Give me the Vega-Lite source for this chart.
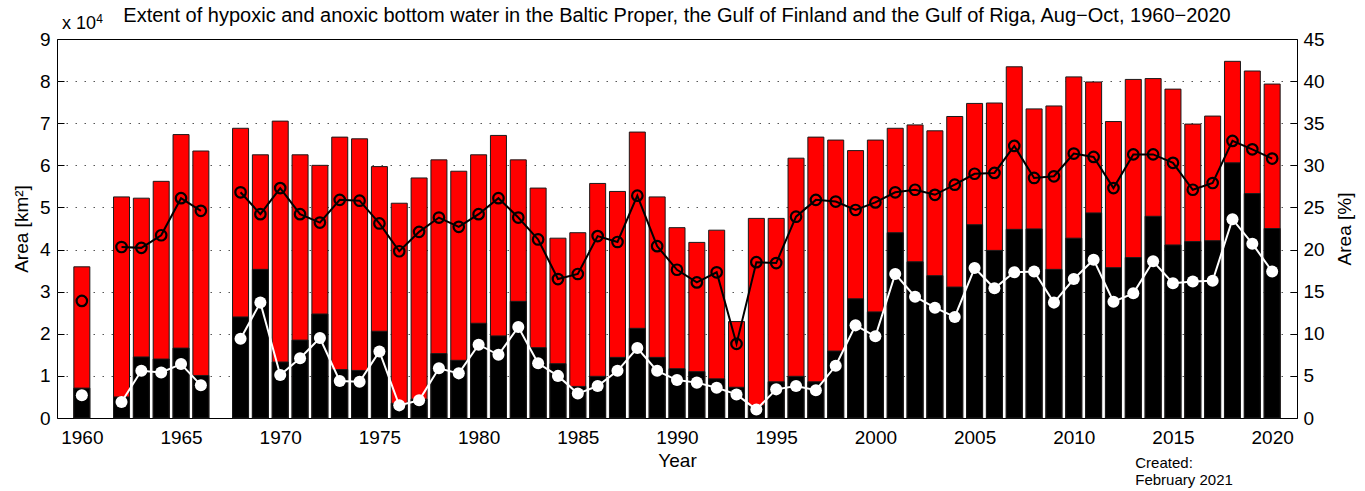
{
  "$schema": "https://vega.github.io/schema/vega-lite/v6.json",
  "width": 1240,
  "height": 379,
  "autosize": {"type": "none"},
  "padding": {"left": 57, "top": 39, "right": 68, "bottom": 73},
  "background": "white",
  "title": {
    "text": "Extent of hypoxic and anoxic bottom water in the Baltic Proper, the Gulf of Finland and the Gulf of Riga, Aug−Oct, 1960−2020",
    "font": "Liberation Sans",
    "fontSize": 20,
    "fontWeight": "normal",
    "color": "black",
    "anchor": "middle",
    "baseline": "alphabetic",
    "offset": 0,
    "dy": 29
  },
  "data": {
    "values": [
      {"year": 1960, "hyp": 35900, "anox": 7100, "hyp_pct": 13.9, "anox_pct": 2.7},
      {"year": 1961, "hyp": null, "anox": null, "hyp_pct": null, "anox_pct": null},
      {"year": 1962, "hyp": 52500, "anox": 5000, "hyp_pct": 20.3, "anox_pct": 1.9},
      {"year": 1963, "hyp": 52200, "anox": 14500, "hyp_pct": 20.2, "anox_pct": 5.6},
      {"year": 1964, "hyp": 56200, "anox": 14000, "hyp_pct": 21.7, "anox_pct": 5.4},
      {"year": 1965, "hyp": 67300, "anox": 16600, "hyp_pct": 26.1, "anox_pct": 6.4},
      {"year": 1966, "hyp": 63400, "anox": 10100, "hyp_pct": 24.6, "anox_pct": 3.9},
      {"year": 1967, "hyp": null, "anox": null, "hyp_pct": null, "anox_pct": null},
      {"year": 1968, "hyp": 68800, "anox": 24000, "hyp_pct": 26.8, "anox_pct": 9.4},
      {"year": 1969, "hyp": 62500, "anox": 35300, "hyp_pct": 24.2, "anox_pct": 13.7},
      {"year": 1970, "hyp": 70500, "anox": 13300, "hyp_pct": 27.3, "anox_pct": 5.1},
      {"year": 1971, "hyp": 62500, "anox": 18500, "hyp_pct": 24.2, "anox_pct": 7.1},
      {"year": 1972, "hyp": 60000, "anox": 24700, "hyp_pct": 23.2, "anox_pct": 9.5},
      {"year": 1973, "hyp": 66700, "anox": 11500, "hyp_pct": 25.9, "anox_pct": 4.4},
      {"year": 1974, "hyp": 66300, "anox": 11300, "hyp_pct": 25.8, "anox_pct": 4.3},
      {"year": 1975, "hyp": 59700, "anox": 20600, "hyp_pct": 23.1, "anox_pct": 7.9},
      {"year": 1976, "hyp": 51000, "anox": 3500, "hyp_pct": 19.8, "anox_pct": 1.5},
      {"year": 1977, "hyp": 57000, "anox": 4500, "hyp_pct": 22.1, "anox_pct": 2.1},
      {"year": 1978, "hyp": 61300, "anox": 15300, "hyp_pct": 23.8, "anox_pct": 5.9},
      {"year": 1979, "hyp": 58600, "anox": 13700, "hyp_pct": 22.7, "anox_pct": 5.3},
      {"year": 1980, "hyp": 62500, "anox": 22500, "hyp_pct": 24.2, "anox_pct": 8.7},
      {"year": 1981, "hyp": 67100, "anox": 19500, "hyp_pct": 26.1, "anox_pct": 7.5},
      {"year": 1982, "hyp": 61300, "anox": 27700, "hyp_pct": 23.8, "anox_pct": 10.8},
      {"year": 1983, "hyp": 54600, "anox": 16700, "hyp_pct": 21.2, "anox_pct": 6.5},
      {"year": 1984, "hyp": 42700, "anox": 12900, "hyp_pct": 16.5, "anox_pct": 5.0},
      {"year": 1985, "hyp": 44000, "anox": 7500, "hyp_pct": 17.1, "anox_pct": 2.9},
      {"year": 1986, "hyp": 55700, "anox": 9900, "hyp_pct": 21.6, "anox_pct": 3.8},
      {"year": 1987, "hyp": 53800, "anox": 14400, "hyp_pct": 20.9, "anox_pct": 5.6},
      {"year": 1988, "hyp": 67900, "anox": 21300, "hyp_pct": 26.4, "anox_pct": 8.3},
      {"year": 1989, "hyp": 52500, "anox": 14400, "hyp_pct": 20.4, "anox_pct": 5.6},
      {"year": 1990, "hyp": 45200, "anox": 11700, "hyp_pct": 17.6, "anox_pct": 4.5},
      {"year": 1991, "hyp": 41700, "anox": 11000, "hyp_pct": 16.1, "anox_pct": 4.2},
      {"year": 1992, "hyp": 44600, "anox": 9300, "hyp_pct": 17.3, "anox_pct": 3.6},
      {"year": 1993, "hyp": 22900, "anox": 7300, "hyp_pct": 8.8, "anox_pct": 2.8},
      {"year": 1994, "hyp": 47400, "anox": 3000, "hyp_pct": 18.5, "anox_pct": 1.0},
      {"year": 1995, "hyp": 47400, "anox": 8600, "hyp_pct": 18.4, "anox_pct": 3.4},
      {"year": 1996, "hyp": 61700, "anox": 9900, "hyp_pct": 23.9, "anox_pct": 3.8},
      {"year": 1997, "hyp": 66700, "anox": 8600, "hyp_pct": 25.9, "anox_pct": 3.3},
      {"year": 1998, "hyp": 66000, "anox": 15900, "hyp_pct": 25.7, "anox_pct": 6.2},
      {"year": 1999, "hyp": 63500, "anox": 28300, "hyp_pct": 24.7, "anox_pct": 11.0},
      {"year": 2000, "hyp": 66000, "anox": 25200, "hyp_pct": 25.6, "anox_pct": 9.7},
      {"year": 2001, "hyp": 68800, "anox": 44000, "hyp_pct": 26.8, "anox_pct": 17.1},
      {"year": 2002, "hyp": 69600, "anox": 37100, "hyp_pct": 27.1, "anox_pct": 14.4},
      {"year": 2003, "hyp": 68200, "anox": 33800, "hyp_pct": 26.5, "anox_pct": 13.1},
      {"year": 2004, "hyp": 71600, "anox": 31100, "hyp_pct": 27.7, "anox_pct": 12.0},
      {"year": 2005, "hyp": 74700, "anox": 45900, "hyp_pct": 29.0, "anox_pct": 17.8},
      {"year": 2006, "hyp": 74800, "anox": 39800, "hyp_pct": 29.1, "anox_pct": 15.4},
      {"year": 2007, "hyp": 83400, "anox": 44800, "hyp_pct": 32.3, "anox_pct": 17.3},
      {"year": 2008, "hyp": 73400, "anox": 44900, "hyp_pct": 28.5, "anox_pct": 17.4},
      {"year": 2009, "hyp": 74100, "anox": 35300, "hyp_pct": 28.7, "anox_pct": 13.7},
      {"year": 2010, "hyp": 81000, "anox": 42700, "hyp_pct": 31.4, "anox_pct": 16.5},
      {"year": 2011, "hyp": 79800, "anox": 48700, "hyp_pct": 31.0, "anox_pct": 18.8},
      {"year": 2012, "hyp": 70400, "anox": 35700, "hyp_pct": 27.3, "anox_pct": 13.8},
      {"year": 2013, "hyp": 80400, "anox": 38100, "hyp_pct": 31.3, "anox_pct": 14.8},
      {"year": 2014, "hyp": 80600, "anox": 47900, "hyp_pct": 31.3, "anox_pct": 18.6},
      {"year": 2015, "hyp": 78100, "anox": 41100, "hyp_pct": 30.3, "anox_pct": 16.0},
      {"year": 2016, "hyp": 69800, "anox": 41900, "hyp_pct": 27.1, "anox_pct": 16.2},
      {"year": 2017, "hyp": 71700, "anox": 42100, "hyp_pct": 27.9, "anox_pct": 16.3},
      {"year": 2018, "hyp": 84700, "anox": 60600, "hyp_pct": 32.9, "anox_pct": 23.6},
      {"year": 2019, "hyp": 82400, "anox": 53300, "hyp_pct": 31.9, "anox_pct": 20.7},
      {"year": 2020, "hyp": 79300, "anox": 45000, "hyp_pct": 30.8, "anox_pct": 17.4}
    ]
  },
  "layer": [
    {
      "layer": [
        {
          "mark": {"type": "bar", "color": "#ff0000", "stroke": "#1a1a1a", "strokeWidth": 1, "size": 16},
          "encoding": {
            "x": {
              "field": "year", "type": "quantitative",
              "scale": {"domain": [1959, 2021], "nice": false, "zero": false},
              "axis": {
                "values": [1960, 1965, 1970, 1975, 1980, 1985, 1990, 1995, 2000, 2005, 2010, 2015, 2020],
                "format": "d",
                "title": "Year",
                "grid": false,
                "domain": false,
                "tickSize": -7,
                "tickColor": "black",
                "labelPadding": 17,
                "labelFont": "Liberation Sans",
                "labelFontSize": 19,
                "labelColor": "black",
                "titleFont": "Liberation Sans",
                "titleFontSize": 19,
                "titleFontWeight": "normal",
                "titleColor": "black",
                "titlePadding": 4
              }
            },
            "y": {
              "field": "hyp", "type": "quantitative",
              "scale": {"domain": [0, 90000], "nice": false},
              "axis": {
                "orient": "left",
                "values": [0, 10000, 20000, 30000, 40000, 50000, 60000, 70000, 80000, 90000],
                "labelExpr": "datum.value / 10000",
                "title": "Area [km²]",
                "grid": true,
                "gridDash": [1.5, 7.5],
                "gridColor": "#555555",
                "gridWidth": 1,
                "gridOpacity": {"condition": {"test": "datum.value === 0 || datum.value === 90000", "value": 0}, "value": 1},
                "domain": false,
                "tickSize": -7,
                "tickColor": "black",
                "labelPadding": 14,
                "labelFont": "Liberation Sans",
                "labelFontSize": 19,
                "labelColor": "black",
                "titleFont": "Liberation Sans",
                "titleFontSize": 19,
                "titleFontWeight": "normal",
                "titleColor": "black",
                "titlePadding": 8
              }
            }
          }
        },
        {
          "mark": {"type": "bar", "color": "black", "stroke": "#1a1a1a", "strokeWidth": 1, "size": 16},
          "encoding": {
            "x": {"field": "year", "type": "quantitative"},
            "y": {"field": "anox", "type": "quantitative"}
          }
        },
        {
          "data": {"values": [{"label": "x 10"}]},
          "mark": {"type": "text", "align": "left", "baseline": "alphabetic", "font": "Liberation Sans", "fontSize": 18, "color": "black"},
          "encoding": {
            "x": {"datum": 1959},
            "y": {"datum": 92400},
            "text": {"field": "label"}
          }
        },
        {
          "data": {"values": [{"label": "4"}]},
          "mark": {"type": "text", "align": "left", "baseline": "alphabetic", "font": "Liberation Sans", "fontSize": 12, "color": "black"},
          "encoding": {
            "x": {"datum": 1960.73},
            "y": {"datum": 93800},
            "text": {"field": "label"}
          }
        },
        {
          "data": {"values": [{"label": "Created:\nFebruary 2021"}]},
          "mark": {"type": "text", "align": "left", "baseline": "alphabetic", "lineBreak": "\n", "lineHeight": 17, "font": "Liberation Sans", "fontSize": 15, "color": "black"},
          "encoding": {
            "x": {"datum": 2013.1},
            "y": {"datum": -11870},
            "text": {"field": "label"}
          }
        }
      ]
    },
    {
      "layer": [
        {
          "mark": {"type": "line", "color": "black", "strokeWidth": 2},
          "encoding": {
            "x": {"field": "year", "type": "quantitative"},
            "y": {
              "field": "hyp_pct", "type": "quantitative",
              "scale": {"domain": [0, 45], "nice": false},
              "axis": {
                "orient": "right",
                "values": [0, 5, 10, 15, 20, 25, 30, 35, 40, 45],
                "title": "Area [%]",
                "titleAngle": -90,
                "grid": false,
                "domain": false,
                "tickSize": -7,
                "tickColor": "black",
                "labelPadding": 13,
                "labelFont": "Liberation Sans",
                "labelFontSize": 19,
                "labelColor": "black",
                "titleFont": "Liberation Sans",
                "titleFontSize": 19,
                "titleFontWeight": "normal",
                "titleColor": "black",
                "titlePadding": 30
              }
            }
          }
        },
        {
          "mark": {"type": "point", "shape": "circle", "filled": false, "stroke": "black", "strokeWidth": 2.2, "size": 110, "opacity": 1},
          "encoding": {
            "x": {"field": "year", "type": "quantitative"},
            "y": {"field": "hyp_pct", "type": "quantitative"}
          }
        },
        {
          "mark": {"type": "line", "color": "white", "strokeWidth": 2},
          "encoding": {
            "x": {"field": "year", "type": "quantitative"},
            "y": {"field": "anox_pct", "type": "quantitative"}
          }
        },
        {
          "mark": {"type": "point", "shape": "circle", "filled": true, "color": "white", "size": 145, "opacity": 1},
          "encoding": {
            "x": {"field": "year", "type": "quantitative"},
            "y": {"field": "anox_pct", "type": "quantitative"}
          }
        }
      ]
    }
  ],
  "resolve": {"scale": {"y": "independent"}},
  "config": {
    "view": {"stroke": "black", "strokeWidth": 1},
    "font": "Liberation Sans"
  }
}
